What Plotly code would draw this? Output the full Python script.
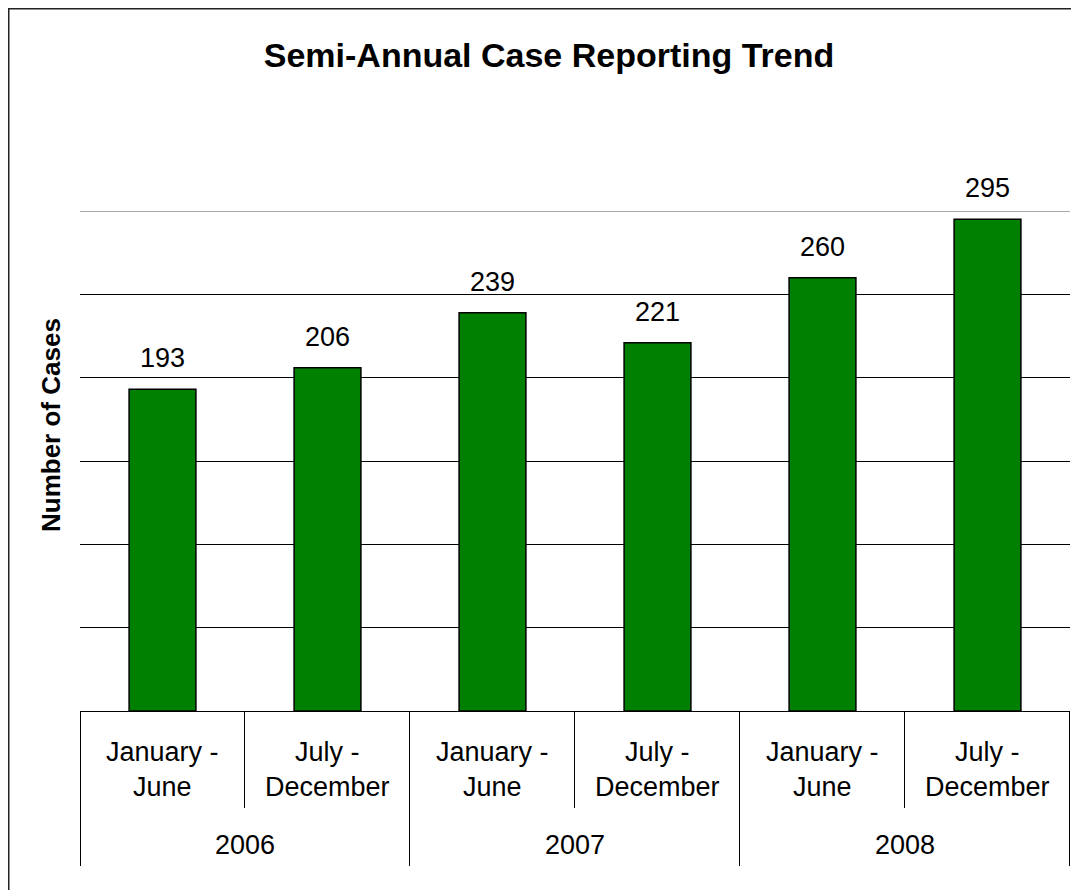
import plotly.graph_objects as go

# Datos del gráfico
years = ["2006", "2007", "2008"]
periods = ["January -<br>June", "July -<br>December",
           "January -<br>June", "July -<br>December",
           "January -<br>June", "July -<br>December"]
cases = [193, 206, 239, 221, 260, 295]

# la página tiene 8 px de margen en el body: todo se desplaza 8 px
OFF = 8
W, H = 1079 - OFF, 890 - OFF
PLOT_L, PLOT_R, PLOT_T, PLOT_B = 80, 1070, 211, 711  # en px de la imagen de referencia
M_L, M_R = PLOT_L - OFF, W - (PLOT_R - OFF)
M_T, M_B = PLOT_T - OFF, H - (PLOT_B - OFF)
PW, PH = PLOT_R - PLOT_L, PLOT_B - PLOT_T
FONT = "Liberation Sans, Arial, sans-serif"
HALF_PX = 0.5 * len(cases) / PW  # medio píxel en unidades del eje x (líneas nítidas)


def px_x(px):
    return (px - PLOT_L) / PW


def px_y(py):
    return (PLOT_B - py) / PH


x = list(range(len(cases)))

fig = go.Figure()

fig.add_trace(
    go.Bar(
        x=x,
        y=cases,
        width=0.405,
        marker=dict(color="#008000", line=dict(color="black", width=1.5)),
        hoverinfo="y",
        showlegend=False,
    )
)

annotations = []

# etiquetas de valores
for xi, v in zip(x, cases):
    annotations.append(dict(
        x=xi, y=v, xref="x", yref="y", text=str(v), showarrow=False,
        yanchor="middle", yshift=31, font=dict(size=27, color="black", family=FONT),
    ))

# etiquetas de periodos
for xi, p in zip(x, periods):
    annotations.append(dict(
        x=xi, y=px_y(769.5), xref="x", yref="paper", text=p, showarrow=False,
        yanchor="middle", font=dict(size=27, color="black", family=FONT),
    ))

# etiquetas de años
for i, yr in enumerate(years):
    annotations.append(dict(
        x=2 * i + 0.5, y=px_y(845), xref="x", yref="paper", text=yr, showarrow=False,
        yanchor="middle", font=dict(size=27, color="black", family=FONT),
    ))

# título del eje y
annotations.append(dict(
    x=px_x(51), y=px_y(425), xref="paper", yref="paper", text="<b>Number of Cases</b>",
    showarrow=False, textangle=-90, xanchor="center", yanchor="middle",
    font=dict(size=26, color="black", family=FONT),
))

shapes = []
# línea de cuadrícula superior (plotly no la dibuja en el borde)
shapes.append(dict(type="line", xref="paper", yref="y", x0=0, x1=1, y0=300, y1=300,
                   line=dict(color="#555", width=1)))
# divisores entre periodos
for b in [0.5, 2.5, 4.5]:
    shapes.append(dict(type="line", xref="x", yref="paper", x0=b - HALF_PX, x1=b - HALF_PX,
                       y0=0, y1=px_y(808), line=dict(color="black", width=1)))
# divisores entre años
for b in [-0.5, 1.5, 3.5, 5.5]:
    xb = b + HALF_PX if b < 0 else b - HALF_PX
    shapes.append(dict(type="line", xref="x", yref="paper", x0=xb, x1=xb,
                       y0=0, y1=px_y(866), line=dict(color="black", width=1)))
# borde exterior (solo arriba e izquierda visibles)
shapes.append(dict(type="line", xref="paper", yref="paper", x0=px_x(OFF + 0.5), x1=px_x(OFF + 0.5),
                   y0=px_y(OFF), y1=px_y(900), line=dict(color="#222", width=2)))
shapes.append(dict(type="line", xref="paper", yref="paper", x0=px_x(OFF), x1=px_x(1100),
                   y0=px_y(OFF + 0.5), y1=px_y(OFF + 0.5), line=dict(color="#222", width=2)))

fig.update_layout(
    width=W,
    height=H,
    margin=dict(l=M_L, r=M_R, t=M_T, b=M_B, pad=0),
    paper_bgcolor="white",
    plot_bgcolor="white",
    font=dict(family=FONT, color="black"),
    title=dict(
        text="<b>Semi-Annual Case Reporting Trend</b>",
        x=(549 - OFF) / W, xref="container", xanchor="center",
        y=1 - (55 - OFF) / H, yref="container", yanchor="middle",
        font=dict(size=34, color="black", family=FONT),
    ),
    xaxis=dict(
        range=[-0.5, 5.5], showticklabels=False, showgrid=False, zeroline=False,
        showline=True, linecolor="black", linewidth=1, ticks="", fixedrange=True,
    ),
    yaxis=dict(
        range=[0, 300], dtick=50, showticklabels=False, showgrid=True,
        gridcolor="black", gridwidth=1, zeroline=False, showline=False, ticks="",
    ),
    annotations=annotations,
    shapes=shapes,
    bargap=0.6,
)

fig.write_html("out.html")
